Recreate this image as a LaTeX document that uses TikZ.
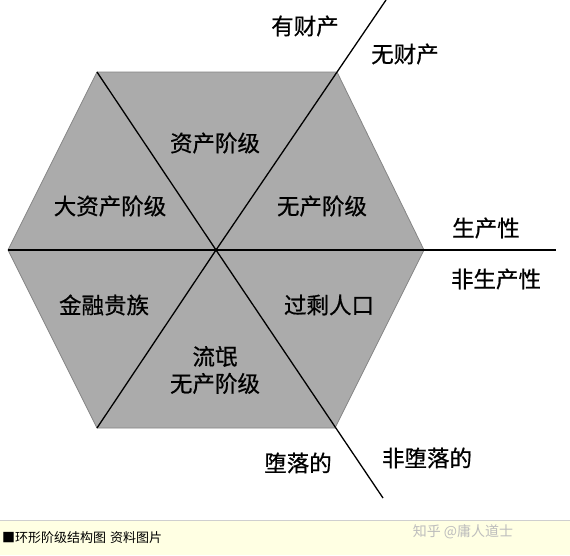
\documentclass[tikz,border=0pt]{standalone}
\usepackage{fontspec}
\newfontfamily\cjk{Noto Sans CJK SC}
\newfontfamily\cjkb[FakeBold=0.6]{Noto Sans CJK SC}
\definecolor{hexfill}{HTML}{ABABAB}
\definecolor{hexedge}{HTML}{858585}
\definecolor{capbg}{HTML}{FFFFE3}
\definecolor{capline}{HTML}{CFCFCF}
\definecolor{wmark}{HTML}{BDBDBD}
\begin{document}
\begin{tikzpicture}[x=1pt,y=-1pt,
  lbl/.style={font=\cjkb\fontsize{22.5}{26}\selectfont, inner sep=0pt, align=center},
  divline/.style={draw=black, line width=1.3pt},
  captext/.style={font=\cjk\fontsize{13}{15}\selectfont, inner sep=0pt, anchor=west},
  wm/.style={font=\cjk\fontsize{14}{16}\selectfont, inner sep=0pt, text=wmark}]
\useasboundingbox (0,0) rectangle (570,555);
\fill[white] (0,0) rectangle (570,555);
% vertices
\coordinate (L) at (8,250);
\coordinate (TL) at (97,72);
\coordinate (TR) at (337,72);
\coordinate (R) at (424,250);
\coordinate (BR) at (335,428);
\coordinate (BL) at (97,428);
\coordinate (O) at (216,250);
\coordinate (E1) at (386,0);
\coordinate (E2) at (383,498);
\coordinate (E3) at (556,250);
% hexagon
\filldraw[fill=hexfill, draw=hexedge, line width=0.8pt, line join=miter]
  (L) -- (TL) -- (TR) -- (R) -- (BR) -- (BL) -- cycle;
% dividing lines
\draw[divline] (TL) -- (O) -- (E2);
\draw[divline] (BL) -- (O) -- (E1);
\draw[divline] (L) -- (E3);
% labels
\node[lbl] (a) at (215,143) {资产阶级};
\node[lbl] (b) at (110,206) {大资产阶级};
\node[lbl] (c) at (322,206) {无产阶级};
\node[lbl] (d) at (104,305) {金融贵族};
\node[lbl] (e) at (329,305) {过剩人口};
\node[lbl] (f) at (215,370) {流氓\\[1pt]无产阶级};
\node[lbl] (g) at (305,26) {有财产};
\node[lbl] (h) at (405,54) {无财产};
\node[lbl] (i) at (486,228) {生产性};
\node[lbl] (j) at (496,279) {非生产性};
\node[lbl] (k) at (298,463) {堕落的};
\node[lbl] (m) at (427,458) {非堕落的};
% caption bar
\fill[capbg] (0,520) rectangle (570,555);
\draw[capline, line width=1pt] (0,520.5) -- (570,520.5);
\node[captext] (cap1) at (2,538) {■环形阶级结构图\hspace{0.3em}资料图片};
\node[wm] (wm1) at (463,532) {知乎 @庸人道士};
\end{tikzpicture}
\end{document}
